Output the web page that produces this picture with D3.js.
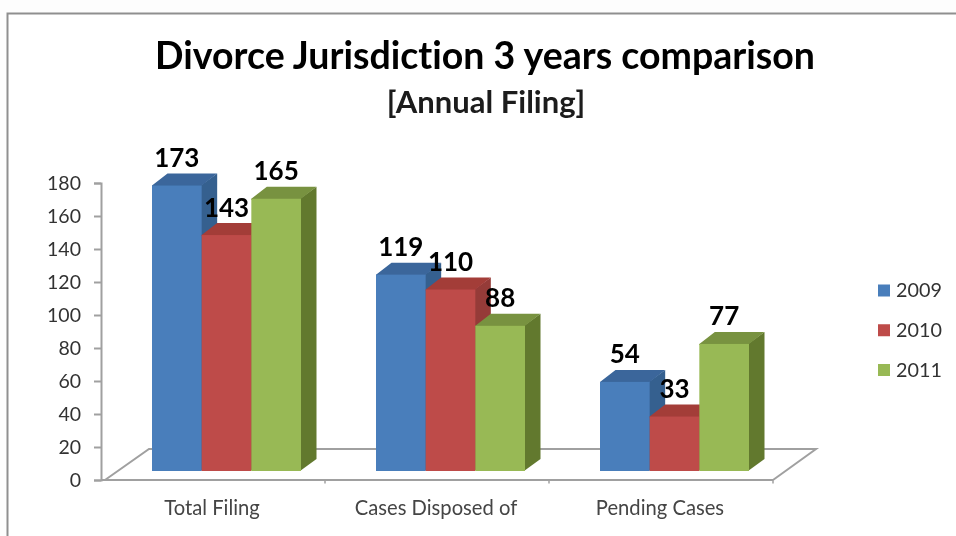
<!DOCTYPE html>
<html>
<head>
<meta charset="utf-8">
<script src="https://cdn.jsdelivr.net/npm/d3@7"></script>
<style>
html,body{margin:0;padding:0;background:#fdfdfd;}
svg{display:block;}
text{font-family:Lato,"Noto Sans",sans-serif;font-variant-ligatures:none;}
</style>
</head>
<body>
<svg id="chart" width="956" height="536"></svg>
<script>
const titleText = "Divorce Jurisdiction 3 years comparison";
const subtitleText = "[Annual Filing]";
const categories = ["Total Filing", "Cases Disposed of", "Pending Cases"];
const seriesNames = ["2009", "2010", "2011"];
const values2009 = [173, 119, 54];
const values2010 = [143, 110, 33];
const values2011 = [165, 88, 77];
const yTicks = [0, 20, 40, 60, 80, 100, 120, 140, 160, 180];
const frontColors = ["#4a7ebb", "#be4b48", "#98b954"];
const topColors = ["#3a669b", "#a33c39", "#78923f"];
const sideColors = ["#35608f", "#953a37", "#62792f"];

const allValues = [values2009, values2010, values2011];
const svg = d3.select("#chart");

const defs = svg.append("defs");
defs.append("filter").attr("id", "soft")
  .attr("x", "-5%").attr("y", "-5%").attr("width", "110%").attr("height", "110%")
  .append("feGaussianBlur").attr("stdDeviation", 0.7);

const root = svg.append("g").attr("filter", "url(#soft)");

// chart frame
root.append("rect").attr("x", 0).attr("y", 0).attr("width", 956).attr("height", 536).attr("fill", "#fdfdfd");
root.append("rect").attr("x", 8).attr("y", 14).attr("width", 960).attr("height", 540).attr("fill", "#ffffff");
root.append("path").attr("d", "M7.5,536V13.5H956").attr("fill", "none").attr("stroke", "#8f8f8f").attr("stroke-width", 2);

// scales
const xLeft = 101, xRight = 773, yZero = 480, yTop = 183;
const depthX = 15.5, depthY = 12;        // bar depth
const floorX = 44, floorY = 31;          // floor depth
const baseLift = 9;                      // bars stand in the middle of the floor
const x0 = d3.scaleBand().domain(categories).range([xLeft, xRight]);
const x1 = d3.scaleBand().domain(seriesNames).range([51, 200]);
const y = d3.scaleLinear().domain([0, 180]).range([yZero, yTop]);

// titles
root.append("text").attr("x", 485).attr("y", 69).attr("text-anchor", "middle")
  .attr("font-size", 37.5).attr("font-weight", 700).attr("fill", "#000000").text(titleText);
root.append("text").attr("x", 486).attr("y", 113).attr("text-anchor", "middle")
  .attr("font-size", 31).attr("font-weight", 700).attr("fill", "#1a1a1a").text(subtitleText);

// floor
const grey = "#a0a0a0";
root.append("path")
  .attr("d", d3.line()([
    [xLeft + 4, yZero], [xLeft + 4 + floorX, yZero - floorY],
    [xRight + floorX - 1, yZero - floorY], [xRight, yZero]
  ]))
  .attr("fill", "none").attr("stroke", grey).attr("stroke-width", 2);

// axes
const yAxis = d3.axisLeft(y).tickValues(yTicks).tickSize(7).tickPadding(13);
const gy = root.append("g").attr("transform", `translate(${xLeft},0)`).call(yAxis);
gy.selectAll("path").attr("stroke", grey).attr("stroke-width", 2);
gy.selectAll("line").attr("stroke", grey).attr("stroke-width", 2);
gy.selectAll("text").attr("font-size", 19.5).attr("fill", "#333333").style("font-family", "Lato,'Noto Sans',sans-serif");

const xAxis = d3.axisBottom(x0).tickSize(0).tickPadding(0).tickFormat("");
const gx = root.append("g").attr("transform", `translate(0,${yZero})`).call(xAxis);
gx.selectAll("path").attr("stroke", grey).attr("stroke-width", 2).attr("d", `M${xLeft},0H${xRight}`);
gx.selectAll("line").remove();
[1, 2, 3].forEach(k => {
  const px = xLeft + k * x0.step();
  gx.append("line").attr("x1", px).attr("x2", px).attr("y1", 0).attr("y2", 3.5).attr("stroke", grey).attr("stroke-width", 1.5);
});

root.selectAll(".cat").data(categories).join("text").attr("class", "cat")
  .attr("x", d => x0(d) + x0.bandwidth() / 2 - 1).attr("y", 515)
  .attr("text-anchor", "middle").attr("font-size", 20.2).attr("fill", "#444444").text(d => d);

// bars, left to right so nearer faces cover the sides of earlier bars
const barW = x1.bandwidth();
categories.forEach((cat, c) => {
  seriesNames.forEach((name, s) => {
    const v = allValues[s][c];
    const left = x0(cat) + x1(name), right = left + barW;
    const topY = y(v) - baseLift, baseY = yZero - baseLift;
    const g = root.append("g");
    g.append("path").attr("fill", sideColors[s]).attr("d", d3.line()([
      [right - 1, topY], [right + depthX, topY - depthY], [right + depthX, baseY - depthY], [right - 1, baseY]
    ]));
    g.append("path").attr("fill", topColors[s]).attr("d", d3.line()([
      [left, topY + 1], [left, topY], [left + depthX, topY - depthY], [right + depthX, topY - depthY], [right, topY], [right, topY + 1]
    ]));
    g.append("rect").attr("x", left).attr("y", topY).attr("width", barW).attr("height", baseY - topY)
      .attr("fill", frontColors[s]);
  });
});

// data labels on top of all bars
categories.forEach((cat, c) => {
  seriesNames.forEach((name, s) => {
    const v = allValues[s][c];
    root.append("text")
      .attr("x", x0(cat) + x1(name) + barW / 2)
      .attr("y", y(v) - baseLift - 18.5)
      .attr("text-anchor", "middle").attr("font-size", 26).attr("font-weight", 700)
      .attr("fill", "#000000").text(v);
  });
});

// legend
const legendY = d3.scalePoint().domain(seriesNames).range([290.5, 370]);
seriesNames.forEach((name, s) => {
  root.append("rect").attr("x", 878).attr("y", legendY(name) - 6).attr("width", 12).attr("height", 12).attr("fill", frontColors[s]);
  root.append("text").attr("x", 896).attr("y", legendY(name) + 6.5)
    .attr("font-size", 19.8).attr("fill", "#333333").text(name);
});
</script>
</body>
</html>
